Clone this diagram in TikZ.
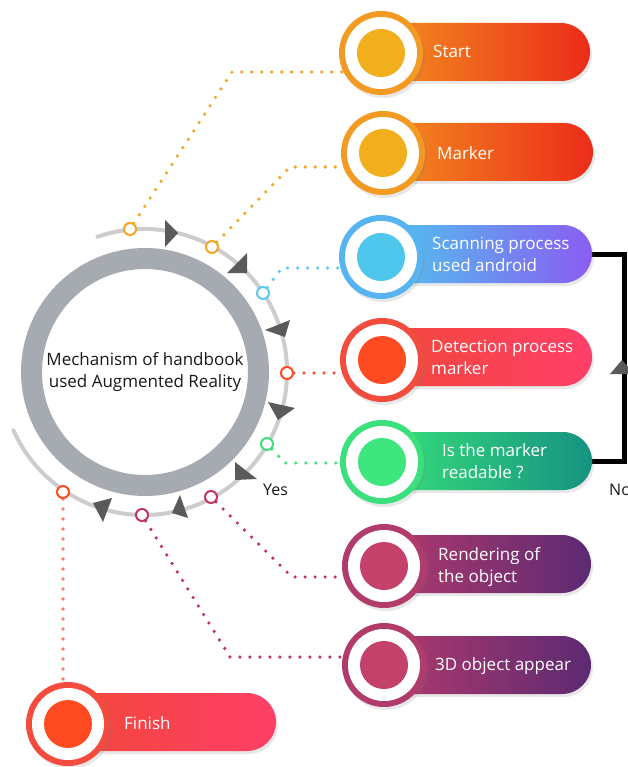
\documentclass[tikz,border=0pt]{standalone}
\usepackage{fontspec}
\setmainfont{Open Sans}
\usetikzlibrary{shapes.misc,shadows,backgrounds}
\definecolor{ringgray}{HTML}{A5ABB0}
\definecolor{arcgray}{HTML}{CDCDCD}
\definecolor{arrowgray}{HTML}{5A5A5A}
\definecolor{orL}{HTML}{F28E1F}
\definecolor{orR}{HTML}{EC2C1A}
\definecolor{orRing}{HTML}{F29A22}
\definecolor{orDisc}{HTML}{F2AF1D}
\definecolor{orDot}{HTML}{F5A623}
\definecolor{blL}{HTML}{4EC6EE}
\definecolor{blR}{HTML}{8A5CF2}
\definecolor{blRing}{HTML}{58B4F0}
\definecolor{blDisc}{HTML}{4FC6EB}
\definecolor{blDot}{HTML}{5CC8EE}
\definecolor{rdL}{HTML}{F2473A}
\definecolor{rdR}{HTML}{FF3F68}
\definecolor{rdRing}{HTML}{F34B3E}
\definecolor{rdDisc}{HTML}{FF4A22}
\definecolor{rdDot}{HTML}{F2604A}
\definecolor{grL}{HTML}{37E07A}
\definecolor{grR}{HTML}{169282}
\definecolor{grRing}{HTML}{3AE07C}
\definecolor{grDisc}{HTML}{3EE67E}
\definecolor{grDot}{HTML}{3DE07B}
\definecolor{puL}{HTML}{B23A6D}
\definecolor{puR}{HTML}{5C2A72}
\definecolor{puRing}{HTML}{B13B6A}
\definecolor{puDisc}{HTML}{C4426A}
\definecolor{puDot}{HTML}{C03565}
\definecolor{fiDot}{HTML}{F5806A}
\begin{document}
\begin{tikzpicture}[x=1pt,y=1pt,
  pilltext/.style={text=white, font=\fontsize{17}{22}\selectfont, align=left, anchor=west, inner sep=0},
  body/.style={rounded rectangle, rounded rectangle left arc=none, minimum height=58pt, inner sep=0,
    drop shadow={opacity=0.18, shadow xshift=2pt, shadow yshift=-3pt}},
  ringnode/.style={circle, minimum size=84pt, inner sep=0, fill=#1,
    drop shadow={opacity=0.18, shadow xshift=2pt, shadow yshift=-3pt}},
  mk/.style={circle, draw=#1, line width=2pt, fill=white, minimum size=12pt, inner sep=0},
  dotline/.style={draw=#1, line width=3.6pt, line cap=round, dash pattern=on 0pt off 10pt},
  tri/.style={fill=arrowgray},
  lbl/.style={font=\fontsize{16}{20}\selectfont, text=black!90, inner sep=0}
]
\useasboundingbox (0,0) rectangle (628,-767);

% central ring
\node[circle, draw=ringgray, line width=21pt, minimum size=227pt, inner sep=0, align=center,
  font=\fontsize{17}{22}\selectfont, text=black!90] (hub) at (145,-372)
  {Mechanism of handbook\\used Augmented Reality};

% thin arc
\draw[arcgray, line width=4pt, line cap=round] ([shift={(144,-372)}]109:143) arc[start angle=109, end angle=-156, radius=143];

% arrow heads on arc
\fill[tri] (165,-220) -- (165,-247) -- (178,-233) -- cycle;
\fill[tri] (247,-253) -- (247,-273) -- (227,-273) -- cycle;
\fill[tri] (265,-330) -- (290,-320) -- (285,-337) -- cycle;
\fill[tri] (268,-402) -- (295,-408) -- (278,-420) -- cycle;
\fill[tri] (235,-462) -- (235,-480) -- (257,-479) -- cycle;
\fill[tri] (180,-495) -- (172,-513) -- (188,-518) -- cycle;
\fill[tri] (93,-503) -- (112,-498) -- (103,-522) -- cycle;

% markers
\node[mk=orDot] (m1) at (130,-229) {};
\node[mk=orDot] (m2) at (212,-247) {};
\node[mk=blDot] (m3) at (263,-293) {};
\node[mk=rdDisc] (m4) at (287,-373) {};
\node[mk=grDot] (m5) at (267,-444) {};
\node[mk=puDot] (m6) at (211,-497) {};
\node[mk=puDot] (m7) at (142,-515) {};
\node[mk=rdDisc] (m8) at (63,-492) {};

% pills
\node[body, left color=orL, right color=orR, minimum width=210pt] (s1) at (485,-52) {};
\node[ringnode=orRing] (p1) at (381,-53) {};
\fill[white] (p1.center) circle (36);
\fill[orDisc] (p1.center) circle (24);
\node[pilltext] at (433,-51) {Start};

\node[body, left color=orL, right color=orR, minimum width=212pt] (s2) at (487,-152) {};
\node[ringnode=orRing] (p2) at (383,-153) {};
\fill[white] (p2.center) circle (36);
\fill[orDisc] (p2.center) circle (24);
\node[pilltext] at (437,-153) {Marker};

\node[body, left color=blL, right color=blR, minimum width=212pt] (s3) at (486,-254) {};
\node[ringnode=blRing] (p3) at (381,-257) {};
\fill[white] (p3.center) circle (36);
\fill[blDisc] (p3.center) circle (24);
\node[pilltext] at (432,-254) {Scanning process\\used android};

\node[body, left color=rdL, right color=rdR, minimum width=212pt] (s4) at (486,-357) {};
\node[ringnode=rdRing] (p4) at (382,-360) {};
\fill[white] (p4.center) circle (36);
\fill[rdDisc] (p4.center) circle (24);
\node[pilltext] at (431,-357) {Detection process\\marker};

\node[body, left color=grL, right color=grR, minimum width=212pt] (s5) at (486,-461) {};
\node[ringnode=grRing] (p5) at (382,-462) {};
\fill[white] (p5.center) circle (36);
\fill[grDisc] (p5.center) circle (24);
\node[pilltext] at (442,-461) {Is the marker\\readable ?};

\node[body, left color=puL, right color=puR, minimum width=208pt] (s6) at (487,-564) {};
\node[ringnode=puRing] (p6) at (384,-566) {};
\fill[white] (p6.center) circle (36);
\fill[puDisc] (p6.center) circle (24);
\node[pilltext] at (438,-567) {Rendering of\\the object};

\node[body, left color=puL, right color=puR, minimum width=208pt] (s7) at (487,-665) {};
\node[ringnode=puRing] (p7) at (384,-665) {};
\fill[white] (p7.center) circle (36);
\fill[puDisc] (p7.center) circle (24);
\node[pilltext] at (435,-666) {3D object appear};

\node[body, left color=rdL, right color=rdR, minimum width=208pt] (s8) at (172,-722) {};
\node[ringnode=rdRing] (p8) at (68,-724) {};
\fill[white] (p8.center) circle (36);
\fill[rdDisc] (p8.center) circle (24);
\node[pilltext] at (124,-723) {Finish};

% labels
\node[lbl, anchor=west] (yes) at (263,-490) {Yes};
\node[lbl, anchor=west] (no) at (609,-490) {No};

% arrow on feedback loop
\fill[tri] (610,-374) -- (622,-360) -- (634,-374) -- cycle;

\begin{scope}[on background layer]
  \fill[white] (0,0) rectangle (628,-767);
  \coordinate (b1) at (232,-72);
  \coordinate (b2) at (290,-167);
  \coordinate (b3) at (282,-268);
  \coordinate (b5) at (285,-463);
  \coordinate (b6) at (292,-577);
  \coordinate (b7) at (230,-657);
  \draw[dotline=orDot] (m1) -- (b1) -- (b1 -| p1);
  \draw[dotline=orDot] (m2) -- (b2) -- (b2 -| p2);
  \draw[dotline=blDot] (m3) -- (b3) -- (b3 -| p3);
  \draw[dotline=rdDot] (m4) -- (m4 -| p4);
  \draw[dotline=grDot] (m5) -- (b5) -- (b5 -| p5);
  \draw[dotline=puDot] (m6) -- (b6) -- (b6 -| p6);
  \draw[dotline=puDot] (m7) -- (b7) -- (b7 -| p7);
  \draw[dotline=fiDot] (m8) -- (m8 |- p8.north);
  \draw[black, line width=5pt, line join=miter] (s3.east) -- ++(32,0) |- (s5.east);
\end{scope}
\end{tikzpicture}
\end{document}
